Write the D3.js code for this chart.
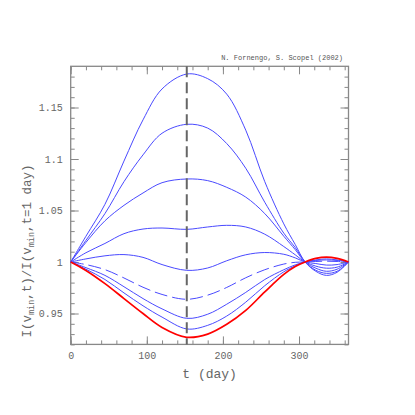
<!DOCTYPE html>
<html>
<head>
<meta charset="utf-8">
<script src="https://cdn.jsdelivr.net/npm/d3@7"></script>
<style>
  body { margin: 0; background: #fff; }
  .axis text { font-family: "Liberation Mono", monospace; fill: #666; }
  .axis line { stroke: #888; }
  .axis path { display: none; }
</style>
</head>
<body>
<div id="chart"></div>
<script>
// days sampled along every curve
const days = [0, 20, 45, 70, 95, 120, 152.5, 180, 205, 230, 255, 280, 295, 308, 322, 336, 350, 365];

// blue curves, from the largest bump down to the lowest
const curve1 = [1, 1.025, 1.056, 1.098, 1.138, 1.168, 1.1825, 1.178, 1.163, 1.128, 1.078, 1.037, 1.017, 1, 0.991, 0.987, 0.990, 1];
const curve2 = [1, 1.021, 1.047, 1.078, 1.104, 1.125, 1.1337, 1.130, 1.115, 1.091, 1.058, 1.028, 1.014, 1, 0.992, 0.989, 0.991, 1];
const curve3 = [1, 1.019, 1.040, 1.055, 1.067, 1.077, 1.0806, 1.079, 1.0725, 1.063, 1.047, 1.025, 1.012, 1, 0.994, 0.991, 0.993, 1];
const curve4 = [1, 1.009, 1.018, 1.0275, 1.032, 1.033, 1.0317, 1.034, 1.0356, 1.034, 1.027, 1.015, 1.007, 1, 0.996, 0.994, 0.995, 1];
const curve5 = [1, 1.003, 1.006, 1.0072, 1.0045, 0.9975, 0.9919, 0.9942, 1.0012, 1.007, 1.0092, 1.0075, 1.004, 1, 0.9985, 0.997, 0.9975, 1];
const curve6 = [1, 0.9975, 0.9926, 0.9845, 0.9755, 0.9685, 0.9638, 0.9678, 0.9753, 0.9847, 0.9925, 0.998, 0.9997, 1, 1.0005, 1.0008, 1.0005, 1];
const curve7 = [1, 0.9945, 0.987, 0.976, 0.9645, 0.9545, 0.9453, 0.9493, 0.959, 0.9705, 0.983, 0.9925, 0.9972, 1, 1.0015, 1.002, 1.0015, 1];
const curve8 = [1, 0.993, 0.983, 0.970, 0.9575, 0.9465, 0.935, 0.9385, 0.9475, 0.961, 0.977, 0.9905, 0.9962, 1, 1.002, 1.003, 1.002, 1];
// red curve
const curveRed = [1, 0.9918, 0.979, 0.9645, 0.950, 0.9365, 0.9269, 0.930, 0.9395, 0.953, 0.971, 0.988, 0.9956, 1, 1.0035, 1.0048, 1.0035, 1];

const xTicks = [0, 100, 200, 300];
const yTicks = [0.95, 1, 1.05, 1.1, 1.15];
const peakDay = 152.5;

const W = 415, H = 415;
const margin = {left: 70.7, right: 66.5, top: 66.3, bottom: 70.6};
const w = W - margin.left - margin.right;
const h = H - margin.top - margin.bottom;

const svg = d3.select('#chart').append('svg').attr('width', W).attr('height', H);
const g = svg.append('g').attr('transform', `translate(${margin.left}, ${margin.top})`);

const x = d3.scaleLinear().domain([0, 365]).range([0, w]);
const y = d3.scaleLinear().domain([0.92, 1.19]).range([h, 0]);

const xMinor = d3.range(0, 366, 20);
const yMinor = d3.range(92, 119, 1).map(d => d / 100);

// minor ticks on all four sides
g.append('g').attr('class', 'axis').attr('transform', `translate(0, ${h})`)
  .call(d3.axisBottom(x).tickValues(xMinor).tickSize(-4).tickFormat(''));
g.append('g').attr('class', 'axis')
  .call(d3.axisTop(x).tickValues(xMinor).tickSize(-4).tickFormat(''));
g.append('g').attr('class', 'axis')
  .call(d3.axisLeft(y).tickValues(yMinor).tickSize(-4).tickFormat(''));
g.append('g').attr('class', 'axis').attr('transform', `translate(${w}, 0)`)
  .call(d3.axisRight(y).tickValues(yMinor).tickSize(-4).tickFormat(''));

// major ticks with labels
g.append('g').attr('class', 'axis').attr('transform', `translate(0, ${h})`)
  .call(d3.axisBottom(x).tickValues(xTicks).tickSize(-8).tickPadding(8).tickFormat(d3.format('d')))
  .selectAll('text').attr('font-size', 10);
g.append('g').attr('class', 'axis')
  .call(d3.axisTop(x).tickValues(xTicks).tickSize(-8).tickFormat(''));
g.append('g').attr('class', 'axis')
  .call(d3.axisLeft(y).tickValues(yTicks).tickSize(-8).tickPadding(8).tickFormat(d => String(d)))
  .selectAll('text').attr('font-size', 10);
g.append('g').attr('class', 'axis').attr('transform', `translate(${w}, 0)`)
  .call(d3.axisRight(y).tickValues(yTicks).tickSize(-8).tickFormat(''));

g.selectAll('.axis line').attr('stroke-width', 1);

// frame
g.append('rect').attr('width', w).attr('height', h)
  .attr('fill', 'none').attr('stroke', '#888').attr('stroke-width', 1.3);

const line = d3.line()
  .x(d => x(d[0]))
  .y(d => y(d[1]))
  .curve(d3.curveCatmullRom.alpha(0.5));

const blues = [curve1, curve2, curve3, curve4, curve5, curve6, curve7, curve8];
blues.forEach((vals, i) => {
  g.append('path')
    .datum(days.map((t, j) => [t, vals[j]]))
    .attr('d', line)
    .attr('fill', 'none')
    .attr('stroke', '#4a4aff')
    .attr('stroke-width', 1)
    .attr('stroke-dasharray', i === 5 ? '13,5' : null);
});

g.append('path')
  .datum(days.map((t, j) => [t, curveRed[j]]))
  .attr('d', line)
  .attr('fill', 'none')
  .attr('stroke', '#ff0000')
  .attr('stroke-width', 1.7);

// dashed vertical line at the peak day
g.append('line')
  .attr('x1', x(peakDay)).attr('x2', x(peakDay))
  .attr('y1', 0).attr('y2', h)
  .attr('stroke', '#666').attr('stroke-width', 2)
  .attr('stroke-dasharray', '11,5');

// axis titles
svg.append('text')
  .attr('x', margin.left + w / 2).attr('y', 378)
  .attr('text-anchor', 'middle')
  .attr('font-family', '"Liberation Mono", monospace')
  .attr('font-size', 13).attr('fill', '#666')
  .text('t (day)');

const yl = svg.append('text')
  .attr('transform', 'translate(31, 251) rotate(-90)')
  .attr('text-anchor', 'middle')
  .attr('font-family', '"Liberation Mono", monospace')
  .attr('font-size', 12.5).attr('fill', '#666');
yl.append('tspan').text('I(v');
yl.append('tspan').attr('font-size', 8.5).attr('dy', 3).text('min');
yl.append('tspan').attr('dy', -3).text(',t)/I(v');
yl.append('tspan').attr('font-size', 8.5).attr('dy', 3).text('min');
yl.append('tspan').attr('dy', -3).text(',t=1 day)');

svg.append('text')
  .attr('x', 343).attr('y', 60)
  .attr('text-anchor', 'end')
  .attr('font-family', '"Liberation Mono", monospace')
  .attr('font-size', 7).attr('fill', '#555')
  .text('N. Fornengo, S. Scopel (2002)');
</script>
</body>
</html>
